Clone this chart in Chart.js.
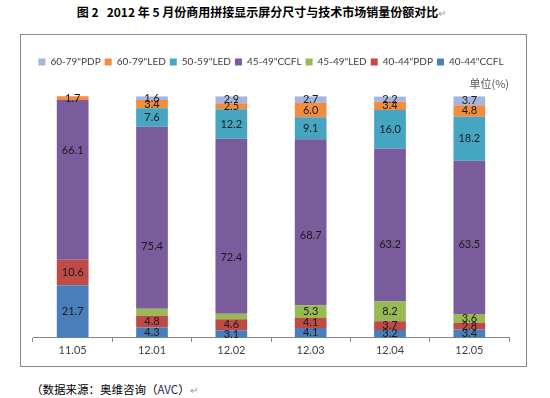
<!DOCTYPE html>
<html>
<head>
<meta charset="utf-8">
<script src="https://cdn.jsdelivr.net/npm/chart.js@4.4.0/dist/chart.umd.min.js"></script>
<style>
  body { margin: 0; width: 550px; height: 398px; background: #fff; position: relative; font-family: "Noto Sans CJK SC", sans-serif; color: #000; }
  #title { position: absolute; left: 0; width: 523px; top: 3px; text-align: center; font-weight: bold; font-size: 12px; white-space: pre; }
  #box { position: absolute; left: 20px; top: 34px; width: 505px; height: 331px; border: 1px solid #8a8a8a; }
  #source { position: absolute; left: 31px; top: 381px; font-size: 11.5px; white-space: pre; }
  .ret { color: #999; font-weight: normal; font-size: 10px; }
</style>
</head>
<body>
<div id="title">图 2   2012 年 5 月份商用拼接显示屏分尺寸与技术市场销量份额对比<span class="ret">↵</span></div>
<div id="box"><canvas id="chart" width="505" height="331"></canvas></div>
<div id="source">（数据来源：奥维咨询（<span style="color:#1f2a60">AVC</span>）<span class="ret">↵</span></div>
<script>
// months on the x axis
const months = ['11.05', '12.01', '12.02', '12.03', '12.04', '12.05'];

// share of sales (%) per size / technology, bottom of the stack first
const ccfl4044 = [21.7, 4.3, 3.1, 4.1, 3.2, 3.4];
const pdp4044 = [10.6, 4.8, 4.6, 4.1, 3.7, 2.8];
const led4549 = [0, 2.9, 2.3, 5.3, 8.2, 3.6];
const ccfl4549 = [66.1, 75.4, 72.4, 68.7, 63.2, 63.5];
const led5059 = [0, 7.6, 12.2, 9.1, 16.0, 18.2];
const led6079 = [1.7, 3.4, 2.5, 6.0, 3.4, 4.8];
const pdp6079 = [0, 1.6, 2.9, 2.7, 2.2, 3.7];

// values that have no label in the original
const unlabeled = ['45-49"LED|12.01', '45-49"LED|12.02'];

function makeSet(label, data, color) {
  return { label: label, data: data, backgroundColor: color, borderWidth: 0 };
}

// draws the number in the middle of each segment
const valueLabels = {
  id: 'valueLabels',
  afterDatasetsDraw(chart, args, opts) {
    const ctx = chart.ctx;
    ctx.save();
    ctx.font = '11px Lato';
    ctx.fillStyle = '#1a1a1a';
    ctx.textAlign = 'center';
    ctx.textBaseline = 'middle';
    chart.data.datasets.forEach((ds, i) => {
      const meta = chart.getDatasetMeta(i);
      meta.data.forEach((bar, j) => {
        const v = ds.data[j];
        if (!v || unlabeled.includes(ds.label + '|' + months[j])) return;
        const shift = (opts.shift[ds.label] || [])[j] || 0;
        ctx.fillText(v.toFixed(1), bar.x, (bar.y + bar.base) / 2 + shift);
      });
    });
    ctx.restore();
  }
};

const ctx = document.getElementById('chart').getContext('2d');
const chart = new Chart(ctx, {
  type: 'bar',
  data: {
    labels: months,
    datasets: [
      makeSet('40-44"CCFL', ccfl4044, '#4a7ebb'),
      makeSet('40-44"PDP', pdp4044, '#be4b48'),
      makeSet('45-49"LED', led4549, '#98b954'),
      makeSet('45-49"CCFL', ccfl4549, '#7a5c9c'),
      makeSet('50-59"LED', led5059, '#46a6c2'),
      makeSet('60-79"LED', led6079, '#f28d3f'),
      makeSet('60-79"PDP', pdp6079, '#a3b6e0')
    ]
  },
  options: {
    responsive: false,
    animation: false,
    barPercentage: 0.4,
    categoryPercentage: 1,
    layout: { padding: { top: 18, right: 17, bottom: 7, left: 12 } },
    scales: {
      x: {
        stacked: true,
        offset: true,
        grid: { display: true, drawOnChartArea: false, drawTicks: true, tickLength: 4, color: '#868686', offset: true },
        border: { color: '#868686' },
        ticks: { font: { family: 'Lato', size: 11 }, color: '#404040', padding: 2 }
      },
      y: { stacked: true, display: false, min: 0, max: 100 }
    },
    plugins: {
      legend: {
        position: 'top',
        reverse: true,
        labels: { boxWidth: 7, boxHeight: 7, padding: 4, font: { family: 'Lato', size: 10 }, color: '#404040' }
      },
      title: {
        display: true,
        text: '单位(%)',
        align: 'end',
        position: 'top',
        weight: 500,
        font: { family: 'Noto Sans CJK SC', size: 11, weight: 'normal' },
        color: '#595959',
        padding: { top: 0, bottom: 6 }
      },
      tooltip: { enabled: false },
      valueLabels: {
        shift: { '45-49"CCFL': [-29, 29, 31, 13, 19, 7] }
      }
    }
  },
  plugins: [valueLabels]
});
</script>
</body>
</html>
